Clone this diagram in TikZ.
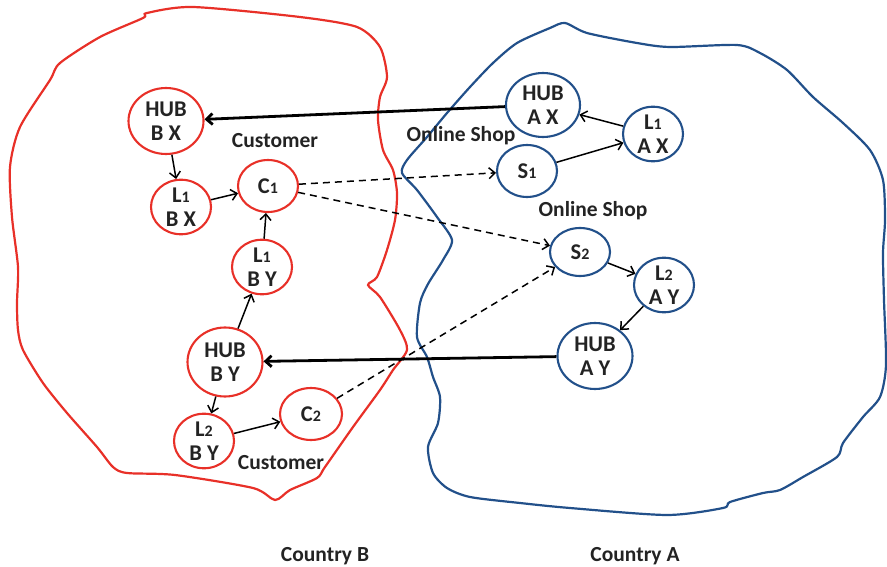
\documentclass[tikz,border=0pt]{standalone}
\usepackage{fontspec}
\setmainfont{Carlito}
\definecolor{myred}{RGB}{232,48,40}
\definecolor{myblue}{RGB}{34,80,138}
\definecolor{mytext}{RGB}{35,35,35}
\usetikzlibrary{arrows,arrows.meta,shapes}
\tikzset{
    site/.style={
           ellipse,
           line width=2.1pt,
           fill=white,
           inner sep=0pt,
           minimum width=60pt, minimum height=52pt,
           align=center,
           text=mytext,
           font=\bfseries\fontsize{22.5}{24}\selectfont,
           },
    hub/.style={site, minimum width=75pt, minimum height=66pt},
    bside/.style={draw=myred},
    aside/.style={draw=myblue},
    areatag/.style={text=mytext, font=\bfseries\fontsize{21.5}{23}\selectfont},
}
\newcommand{\dg}[1]{{\fontsize{16}{16}\selectfont #1}}
\newcommand{\Lone}{L\dg{1}}
\newcommand{\Ltwo}{L\dg{2}}
\newcommand{\Hub}[1]{HUB\\#1}

\begin{document}
\begin{tikzpicture}[x=1pt, y=-1pt, ->, >={Straight Barb[length=6pt,width=11pt]}, line width=1.5pt]
      \useasboundingbox (0,0) rectangle (887,567);
      % country B
      \draw[-, myred, line width=2.2pt] plot[smooth cycle, tension=0.45] coordinates {
        (147,13) (193,7) (300,17) (357,27) (380,47) (387,77) (380,97) (378,120)
        (383,150) (393,170) (397,193) (395,220) (387,250) (377,277) (368,285)
        (380,297) (400,330) (407,350) (393,370) (380,390) (353,427) (325,467)
        (317,478) (290,490) (275,500) (253,488) (175,475) (127,473) (113,467)
        (97,447) (67,413) (43,383) (23,350) (18,330) (17,303) (18,267) (12,217)
        (10,167) (20,127) (50,80) (60,63) (100,37) (143,18)};
      % country A
      \draw[-, myblue, line width=2.2pt] plot[smooth cycle, tension=0.45] coordinates {
        (565,23) (587,33) (637,43) (670,47) (737,45) (760,53) (787,70) (813,97)
        (843,123) (870,150) (883,180) (885,220) (883,253) (884,300) (886,365)
        (880,397) (863,417) (843,443) (837,457) (803,477) (780,490) (763,493)
        (730,502) (723,508) (667,515) (570,508) (520,503) (470,497) (447,488)
        (433,473) (428,447) (438,423) (440,397) (433,377) (427,357) (417,337)
        (420,303) (428,284) (443,260) (452,240) (437,217) (417,190) (402,173)
        (407,160) (427,137) (447,113) (470,87) (493,63) (517,43) (550,28)};

      \node[hub, bside]  (HBX) at (166,121) {\Hub{B X}};
      \node[site, bside, minimum height=50pt] (LBX) at (181,207) {\Lone\\B X};
      \node[site, bside] (C1)  at (268,186) {C\dg{1}};
      \node[site, bside] (LBY) at (262,267) {\Lone\\B Y};
      \node[hub, bside, minimum height=69pt] (HBY) at (225,362) {\Hub{B Y}};
      \node[site, bside] (LBYb) at (204,441) {\Ltwo\\B Y};
      \node[site, bside, minimum width=62pt] (C2) at (311,414) {C\dg{2}};

      \node[hub, aside, minimum width=74pt, minimum height=64pt] (HAX) at (543,105) {\Hub{A X}};
      \node[site, aside, minimum height=54pt] (LAX) at (653,134) {\Lone\\A X};
      \node[site, aside] (S1)  at (527,171) {S\dg{1}};
      \node[site, aside, minimum height=48pt] (S2) at (580,252) {S\dg{2}};
      \node[site, aside, minimum height=50pt] (LAY) at (664,285) {\Ltwo\\A Y};
      \node[hub, aside]  (HAY) at (595,356) {\Hub{A Y}};

      \node[areatag] (cust1) at (275,141) {Customer};
      \node[areatag] (cust2) at (281,463) {Customer};
      \node[areatag] (shop1) at (461,136) {Online Shop};
      \node[areatag] (shop2) at (593,211) {Online Shop};
      \node[areatag] (cntB)  at (325,556) {Country B};
      \node[areatag] (cntA)  at (635,556) {Country A};

      \draw (HAX) edge[line width=2.8pt] (HBX);
      \draw (HAY) edge[line width=2.8pt] (HBY);
      \draw (HBX) edge (LBX);
      \draw (LBX) edge (C1);
      \draw (LBY) edge (C1);
      \draw (HBY) edge (LBY);
      \draw (HBY) edge (LBYb);
      \draw (LBYb) edge (C2);
      \draw (S1)  edge (LAX);
      \draw (LAX) edge (HAX);
      \draw (S2)  edge (LAY);
      \draw (LAY) edge (HAY);
      \draw[dash pattern=on 7pt off 5pt] (C1) edge (S1);
      \draw[dash pattern=on 7pt off 5pt] (C1) edge (S2);
      \draw[dash pattern=on 7pt off 5pt] (C2) edge (S2);
    \end{tikzpicture}
\end{document}
